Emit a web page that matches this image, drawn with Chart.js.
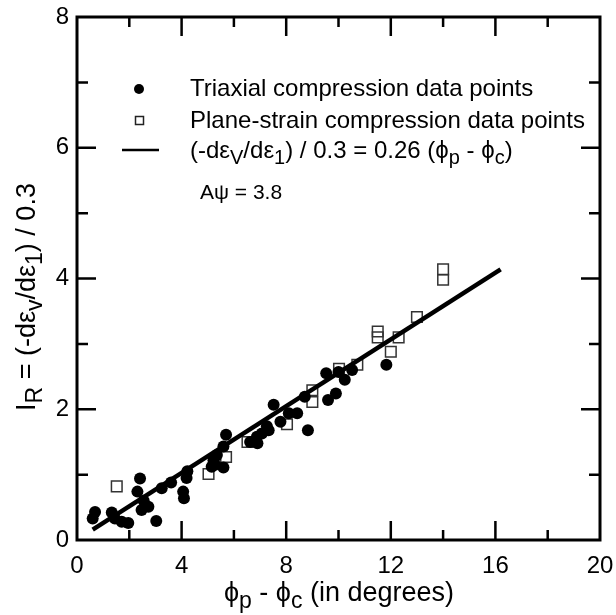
<!DOCTYPE html>
<html>
<head>
<meta charset="utf-8">
<script src="https://cdn.jsdelivr.net/npm/chart.js@4.4.1/dist/chart.umd.min.js"></script>
<style>
  html, body { margin: 0; padding: 0; background: #fff; }
  #wrap { width: 616px; height: 615px; }
</style>
</head>
<body>
<div id="wrap"><canvas id="grafico" width="616" height="615"></canvas></div>
<script>
// dados
const triaxialX = [0.60, 0.69, 1.33, 1.45, 1.71, 1.96, 2.31, 2.41, 2.47, 2.55, 2.73, 3.03, 3.24, 3.60,
    4.06, 4.09, 4.19, 4.22, 5.15, 5.22, 5.28, 5.35, 5.60, 5.60, 5.70, 6.62, 6.88, 6.90, 7.07, 7.26,
    7.33, 7.52, 7.78, 8.10, 8.42, 8.71, 8.83, 9.53, 9.60, 9.90, 10.00, 10.24, 10.52, 11.83];
const triaxialY = [0.33, 0.43, 0.42, 0.33, 0.28, 0.26, 0.74, 0.94, 0.46, 0.60, 0.51, 0.29, 0.79, 0.88,
    0.74, 0.64, 0.95, 1.05, 1.12, 1.22, 1.15, 1.30, 1.11, 1.43, 1.61, 1.50, 1.58, 1.48, 1.63, 1.74,
    1.68, 2.07, 1.81, 1.94, 1.94, 2.19, 1.68, 2.55, 2.14, 2.24, 2.57, 2.45, 2.60, 2.68];

const planeX = [1.52, 5.03, 5.70, 6.52, 8.03, 9.00, 9.00, 10.02, 10.72, 11.50, 11.50, 12.00, 12.30, 13.00, 14.00, 14.00];
const planeY = [0.82, 1.01, 1.27, 1.50, 1.77, 2.29, 2.11, 2.62, 2.68, 3.19, 3.10, 2.88, 3.10, 3.41, 4.14, 3.98];

// reta ajustada: 0.26 (phi_p - phi_c)
const retaX = [0.6, 16.2];
const retaY = [0.16, 4.14];

const xLabels = [0, 4, 8, 12, 16, 20];
const yLabels = [0, 2, 4, 6, 8];
const xTickMarks = [2, 4, 6, 8, 10, 12, 14, 16, 18];
const yTickMarks = [1, 2, 3, 4, 5, 6, 7];

const fonte = 'Liberation Sans, Arial, sans-serif';

function pontos(xs, ys) {
    return xs.map((x, i) => ({ x: x, y: ys[i] }));
}

// desenha texto com subscritos: partes = [[texto, sub]]
function textoRico(ctx, partes, x, y, tam) {
    let px = x;
    partes.forEach(p => {
        const sub = p[1];
        ctx.font = (sub ? Math.round(tam * 0.84) : tam) + 'px ' + fonte;
        ctx.fillText(p[0], px, sub ? y + tam * 0.3 : y);
        px += ctx.measureText(p[0]).width;
    });
    return px - x;
}

function larguraRica(ctx, partes, tam) {
    let w = 0;
    partes.forEach(p => {
        ctx.font = (p[1] ? Math.round(tam * 0.84) : tam) + 'px ' + fonte;
        w += ctx.measureText(p[0]).width;
    });
    return w;
}

const moldura = {
    id: 'moldura',
    afterDraw(chart) {
        const { ctx, chartArea: a, scales } = chart;
        ctx.save();
        ctx.strokeStyle = '#000';
        ctx.lineWidth = 3;
        ctx.strokeRect(a.left, a.top, a.right - a.left, a.bottom - a.top);

        ctx.lineWidth = 2.5;
        xTickMarks.forEach(v => {
            const px = scales.x.getPixelForValue(v);
            const len = (v % 4 === 0) ? 19 : 10;
            ctx.beginPath();
            ctx.moveTo(px, a.bottom); ctx.lineTo(px, a.bottom - len);
            ctx.moveTo(px, a.top); ctx.lineTo(px, a.top + len);
            ctx.stroke();
        });
        yTickMarks.forEach(v => {
            const py = scales.y.getPixelForValue(v);
            const len = (v % 2 === 0) ? 19 : 11;
            ctx.beginPath();
            ctx.moveTo(a.left, py); ctx.lineTo(a.left + len, py);
            ctx.moveTo(a.right, py); ctx.lineTo(a.right - len, py);
            ctx.stroke();
        });

        // legenda
        ctx.fillStyle = '#000';
        ctx.textBaseline = 'middle';
        ctx.textAlign = 'left';
        ctx.beginPath();
        ctx.arc(139, 89, 5, 0, Math.PI * 2);
        ctx.fill();
        ctx.lineWidth = 1.5;
        ctx.strokeStyle = '#222';
        ctx.strokeRect(135.5, 116.5, 8, 8);
        ctx.strokeStyle = '#000';
        ctx.lineWidth = 2.5;
        ctx.beginPath();
        ctx.moveTo(122, 150); ctx.lineTo(159, 150);
        ctx.stroke();

        ctx.font = '24px ' + fonte;
        ctx.fillText('Triaxial compression data points', 190, 89);
        ctx.fillText('Plane-strain compression data points', 190, 121);
        textoRico(ctx, [['(-dε', 0], ['V', 1], ['/dε', 0], ['1', 1], [') / 0.3 = 0.26 (ϕ', 0], ['p', 1], [' - ϕ', 0], ['c', 1], [')', 0]], 190, 151, 24);
        ctx.font = '21px ' + fonte;
        ctx.fillText('Aψ = 3.8', 200, 193);

        // titulos dos eixos
        const tituloX = [['ϕ', 0], ['p', 1], [' - ϕ', 0], ['c', 1], [' (in degrees)', 0]];
        const wx = larguraRica(ctx, tituloX, 27);
        textoRico(ctx, tituloX, 339 - wx / 2, 594, 27);

        const tituloY = [['I', 0], ['R', 1], [' = (-dε', 0], ['v', 1], ['/dε', 0], ['1', 1], [') / 0.3', 0]];
        ctx.translate(28, 297);
        ctx.rotate(-Math.PI / 2);
        const wy = larguraRica(ctx, tituloY, 27);
        textoRico(ctx, tituloY, -wy / 2, 0, 27);
        ctx.restore();
    }
};

new Chart(document.getElementById('grafico'), {
    type: 'scatter',
    data: {
        datasets: [
            {
                type: 'line',
                label: 'ajuste',
                data: pontos(retaX, retaY),
                borderColor: '#000',
                borderWidth: 4.5,
                pointRadius: 0,
                showLine: true,
                fill: false
            },
            {
                label: 'Triaxial',
                data: pontos(triaxialX, triaxialY),
                backgroundColor: '#000',
                borderColor: '#000',
                borderWidth: 0,
                pointRadius: 6,
                pointStyle: 'circle'
            },
            {
                label: 'Plane-strain',
                data: pontos(planeX, planeY),
                backgroundColor: 'rgba(0,0,0,0)',
                borderColor: '#333',
                borderWidth: 1.5,
                pointRadius: 7.5,
                pointStyle: 'rect'
            }
        ]
    },
    options: {
        responsive: false,
        animation: false,
        layout: { padding: { top: 17, right: 16, left: 0, bottom: 0 } },
        plugins: {
            legend: { display: false },
            tooltip: { enabled: false }
        },
        scales: {
            x: {
                type: 'linear',
                min: 0,
                max: 20,
                afterFit(s) { s.height = 75; s.paddingLeft = 0; s.paddingRight = 0; },
                afterBuildTicks(s) { s.ticks = xLabels.map(v => ({ value: v })); },
                ticks: { color: '#000', padding: 12, font: { family: fonte, size: 24 } },
                grid: { display: false, drawTicks: false },
                border: { display: false }
            },
            y: {
                min: 0,
                max: 8,
                afterFit(s) { s.width = 77; s.paddingTop = 0; s.paddingBottom = 0; },
                afterBuildTicks(s) { s.ticks = yLabels.map(v => ({ value: v })); },
                ticks: { color: '#000', padding: 8, font: { family: fonte, size: 24 } },
                grid: { display: false, drawTicks: false },
                border: { display: false }
            }
        }
    },
    plugins: [moldura]
});
</script>
</body>
</html>
